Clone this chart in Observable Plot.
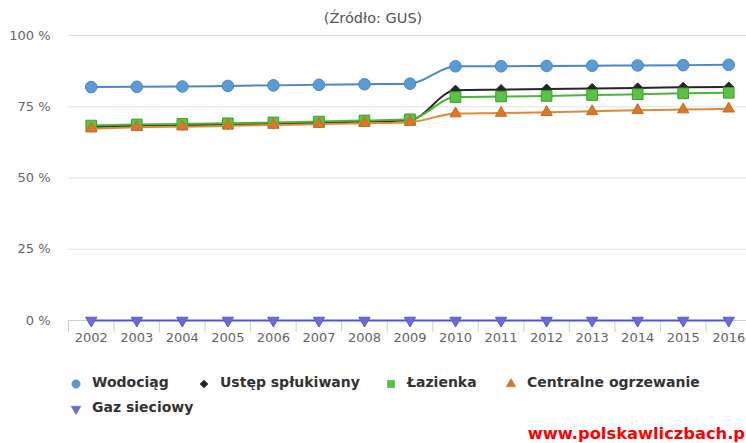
<!DOCTYPE html>
<html>
<head>
<meta charset="utf-8">
<script src="https://cdn.jsdelivr.net/npm/d3@7"></script>
<script src="https://cdn.jsdelivr.net/npm/@observablehq/plot@0.6"></script>
<style>
  html, body { margin: 0; padding: 0; background: #fff; width: 746px; height: 443px; overflow: hidden; }
  body { position: relative; font-family: "DejaVu Sans", sans-serif; }
  #title { position: absolute; top: 10px; left: 0; width: 746px; text-align: center; font-size: 14.5px; color: #555; }
  #chart { position: absolute; top: 25px; left: 0; }
  .leg { position: absolute; font-size: 14px; font-weight: bold; color: #333; white-space: nowrap; }
  .leg svg { position: absolute; left: -23px; top: 3px; }
  #wm { position: absolute; right: 1px; top: 424px; font-size: 16.3px; font-weight: bold; color: #ff0000; white-space: nowrap; }
</style>
</head>
<body>
<div id="title">(Źródło: GUS)</div>
<div id="chart"></div>
<div id="legend"></div>
<div id="wm">www.polskawliczbach.p</div>
<script>
const years = ["2002","2003","2004","2005","2006","2007","2008","2009","2010","2011","2012","2013","2014","2015","2016"];
const wodociag  = [81.9, 82.0, 82.1, 82.3, 82.5, 82.7, 82.9, 83.1, 89.2, 89.2, 89.3, 89.4, 89.5, 89.6, 89.7];
const ustep     = [67.9, 68.3, 68.5, 68.8, 69.1, 69.4, 69.8, 70.3, 80.8, 81.0, 81.2, 81.4, 81.6, 81.8, 81.9];
const lazienka  = [68.4, 68.8, 69.0, 69.2, 69.5, 69.8, 70.2, 70.6, 78.4, 78.6, 78.8, 79.1, 79.4, 79.7, 79.9];
const centralne = [67.3, 67.8, 68.0, 68.3, 68.6, 68.9, 69.2, 69.6, 72.6, 72.8, 73.1, 73.4, 73.8, 74.0, 74.3];
const gaz       = [0, 0, 0, 0, 0, 0, 0, 0, 0, 0, 0, 0, 0, 0, 0];
const yTicks = [0, 25, 50, 75, 100];

const seriesNames = ["Wodociąg", "Ustęp spłukiwany", "Łazienka", "Centralne ogrzewanie", "Gaz sieciowy"];
const seriesValues = [wodociag, ustep, lazienka, centralne, gaz];

const triangleDown = {
  draw(context, size) {
    const s3 = Math.sqrt(3);
    const y = -Math.sqrt(size / (s3 * 3));
    context.moveTo(0, -y * 2);
    context.lineTo(-s3 * y, y);
    context.lineTo(s3 * y, y);
    context.closePath();
  }
};

const styles = [
  {line: "#4d86c6", fill: "#5b9bd5", stroke: "#4a88c8", symbol: "circle", r: 5.8, d3sym: d3.symbolCircle, ls: 55},
  {line: "#262626", fill: "#262626", stroke: "#262626", symbol: "diamond2", r: 4.6, d3sym: d3.symbolDiamond2, ls: 42},
  {line: "#4cb53a", fill: "#5cc244", stroke: "#3f9e2f", symbol: "square", r: 6, d3sym: d3.symbolSquare, ls: 50},
  {line: "#e0893a", fill: "#d9782a", stroke: "#c86a20", symbol: "triangle", r: 4.2, d3sym: d3.symbolTriangle, ls: 40},
  {line: "#5656c6", fill: "#6a6ad8", stroke: "#5a5ac8", symbol: triangleDown, r: 4.2, d3sym: triangleDown, ls: 40}
];

const data = seriesNames.map((name, i) => years.map((y, j) => ({year: y, value: seriesValues[i][j], series: name})));

const step = (751 - 68) / years.length;

const marks = [
  Plot.gridY([25, 50, 75, 100], {stroke: "#e3e3e3", strokeOpacity: 1}),
  Plot.ruleY([0], {stroke: "#c4d2e2"}),
  Plot.ruleX(years, {x: d => d, dx: -step / 2, y1: 0, y2: -4.3, stroke: "#c4d2e2", clip: false}),
  Plot.axisY(yTicks, {tickSize: 0, tickPadding: 18, tickFormat: d => d + " %", fontSize: 13, fill: "#666", label: null}),
  Plot.axisX(years, {tickSize: 0, tickPadding: 12, fontSize: 13, fill: "#666", label: null})
];
data.forEach((d, i) => {
  const s = styles[i];
  marks.push(Plot.line(d, {x: "year", y: "value", stroke: s.line, strokeWidth: 2, curve: "monotone-x"}));
  marks.push(Plot.dot(d, {x: "year", y: "value", symbol: s.symbol, r: s.r, fill: s.fill, stroke: s.stroke, strokeWidth: 1}));
});

const chart = Plot.plot({
  width: 746,
  height: 325,
  marginTop: 10,
  marginBottom: 30,
  marginLeft: 68,
  marginRight: 0,
  style: {fontFamily: "DejaVu Sans, sans-serif", background: "transparent", overflow: "visible"},
  x: {type: "point", domain: years, range: [68, 751], padding: 0.5, round: false, axis: null},
  y: {domain: [0, 100], axis: null},
  marks
});
document.getElementById("chart").appendChild(chart);

// Legend
const legendPos = [
  {left: 92, top: 374},
  {left: 220, top: 374},
  {left: 407, top: 374},
  {left: 527, top: 374},
  {left: 92, top: 399}
];
const legend = document.getElementById("legend");
seriesNames.forEach((name, i) => {
  const s = styles[i];
  const div = document.createElement("div");
  div.className = "leg";
  div.style.left = legendPos[i].left + "px";
  div.style.top = legendPos[i].top + "px";
  const sym = d3.symbol(s.d3sym, s.ls)();
  div.innerHTML = `<svg width="14" height="14" viewBox="-7 -7 14 14"><path d="${sym}" fill="${s.fill}" stroke="${s.stroke}" stroke-width="0.5"/></svg>${name}`;
  legend.appendChild(div);
});
</script>
</body>
</html>
